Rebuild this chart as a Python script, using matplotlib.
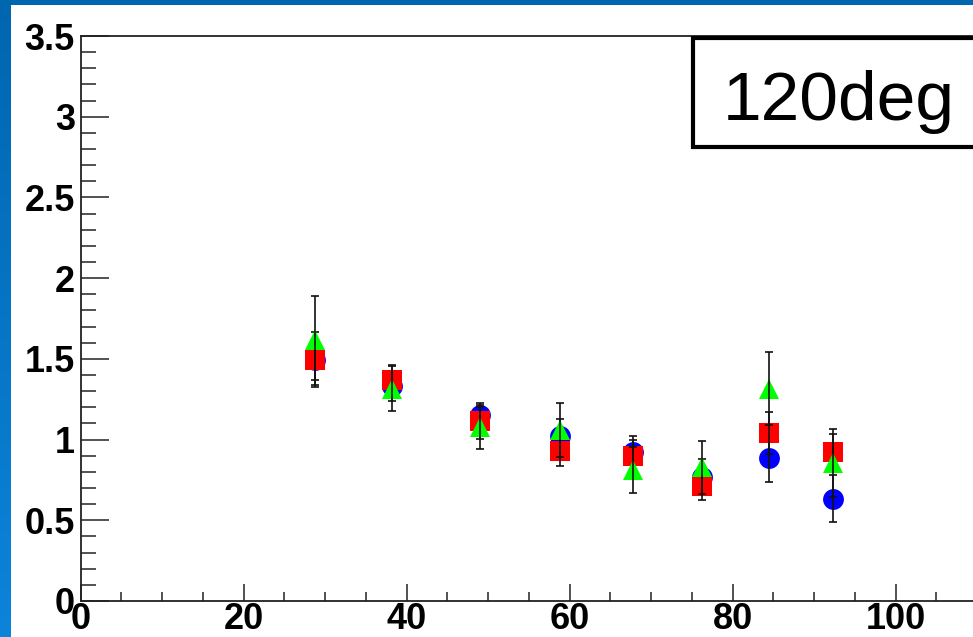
import numpy as np
import matplotlib.pyplot as plt
from matplotlib.patches import Rectangle
from matplotlib.ticker import MultipleLocator, FixedLocator

# data
x = [28.8, 38.2, 49.0, 58.8, 67.8, 76.2, 84.5, 92.3]

blue_y = [1.49, 1.33, 1.15, 1.025, 0.92, 0.77, 0.887, 0.634]
blue_err = [0.12, 0.09, 0.05, 0.10, 0.08, 0.11, 0.15, 0.147]

red_y = [1.496, 1.372, 1.115, 0.931, 0.898, 0.714, 1.040, 0.923]
red_err = [0.168, 0.087, 0.113, 0.094, 0.123, 0.088, 0.13, 0.112]

green_y = [1.614, 1.316, 1.079, 1.06, 0.812, 0.829, 1.316, 0.855]
green_err = [0.274, 0.138, 0.135, 0.167, 0.14, 0.165, 0.224, 0.208]

xticks = [0, 20, 40, 60, 80, 100]
label = "120deg"

W, H = 973, 637
fig = plt.figure(figsize=(W / 100, H / 100), dpi=100, facecolor="white")

# blue slide frame (top strip and left strip with a gradient)
top = fig.add_axes([0, 1 - 5 / H, 1, 5 / H])
top.set_axis_off()
top.add_patch(Rectangle((0, 0), 1, 1, color="#0066b0", transform=top.transAxes))

left = fig.add_axes([0, 0, 11 / W, 1])
left.set_axis_off()
grad = np.linspace(0, 1, 256).reshape(-1, 1)
c0 = np.array([0, 102, 176]) / 255
c1 = np.array([12, 132, 218]) / 255
img = c0 + (c1 - c0) * grad[:, :, None]
left.imshow(img, aspect="auto", extent=[0, 1, 0, 1], origin="upper")

# main axes, right edge runs off the picture
ax = fig.add_axes([80.5 / W, 36 / H, 978 / W, 565 / H])
ax.set_xlim(0, 120)
ax.set_ylim(0, 3.5)

series = [
    (blue_y, blue_err, "o", "#0000ff", 2),
    (red_y, red_err, "s", "#ff0000", 3),
    (green_y, green_err, "^", "#00ff00", 4),
]
for y, e, m, c, z in series:
    ax.plot(x, y, ls="none", marker=m, ms=15, mfc=c, mec=c, mew=0, zorder=z)
    ax.errorbar(x, y, yerr=e, fmt="none", ecolor="#111111", elinewidth=1.2,
                capsize=2.6, capthick=1.2, zorder=z + 0.5)

for s in ["left", "bottom", "top"]:
    ax.spines[s].set_linewidth(1.3)
    ax.spines[s].set_color("#222222")
ax.spines["right"].set_visible(False)

ax.xaxis.set_major_locator(FixedLocator(xticks))
ax.xaxis.set_minor_locator(MultipleLocator(5))
ax.yaxis.set_major_locator(MultipleLocator(0.5))
ax.yaxis.set_minor_locator(MultipleLocator(0.1))
ax.yaxis.set_major_formatter(plt.FuncFormatter(lambda v, p: "%g" % v))

ax.tick_params(axis="y", which="major", direction="in", length=20, width=1.1,
               pad=4, labelsize=26, color="#222222")
ax.tick_params(axis="y", which="minor", direction="in", length=11, width=1.1,
               color="#222222")
ax.tick_params(axis="x", which="major", direction="in", length=12, width=1.1,
               pad=1, labelsize=26, color="#222222")
ax.tick_params(axis="x", which="minor", direction="in", length=6.5, width=1.1,
               color="#222222")
for t in ax.get_xticklabels() + ax.get_yticklabels():
    t.set_fontweight("bold")
    t.set_family("Liberation Sans")

# label box in the top right corner
fig.patches.append(Rectangle((693 / W, 1 - 147 / H), 400 / W, 109 / H,
                             transform=fig.transFigure, fill=True, fc="white",
                             ec="black", lw=3, zorder=10))
fig.text(723 / W, 1 - 120 / H, label, fontsize=50, family="Liberation Sans",
         ha="left", va="baseline", zorder=11)

fig.savefig("out.png", dpi=100, facecolor="white")
